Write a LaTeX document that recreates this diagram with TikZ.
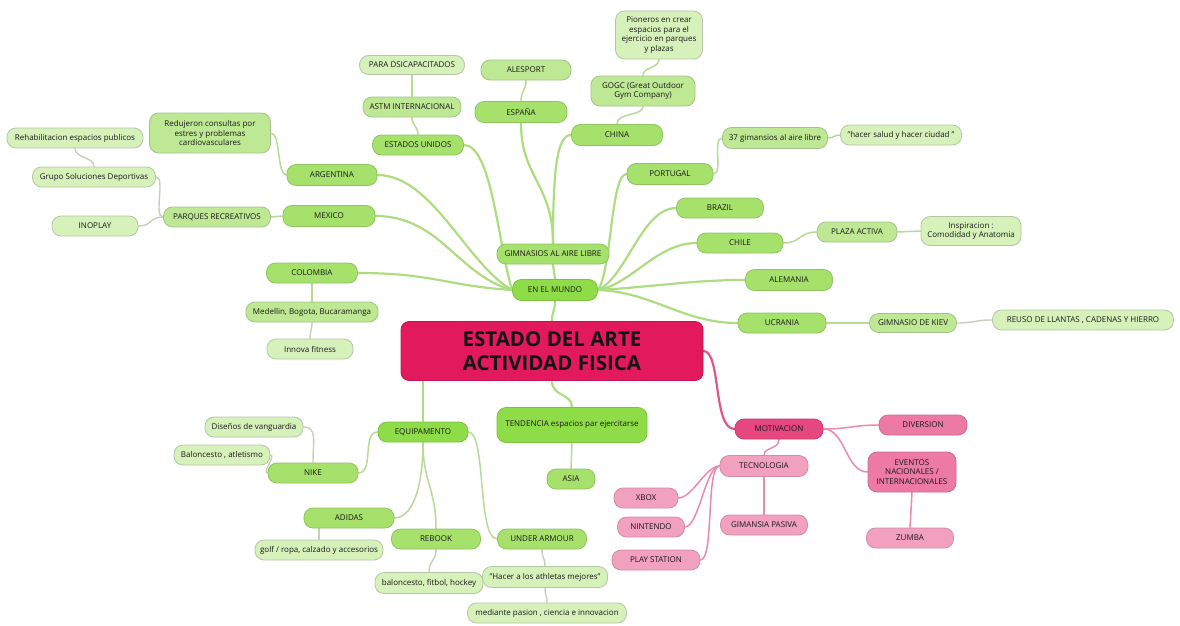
\documentclass[tikz,border=0pt]{standalone}
\usepackage{fontspec}
\setmainfont{Open Sans}
\usetikzlibrary{backgrounds}
\definecolor{gA}{HTML}{8EDD48}
\definecolor{gAd}{HTML}{7CC23E}
\definecolor{gB}{HTML}{A6E16C}
\definecolor{gBd}{HTML}{8FC461}
\definecolor{gC}{HTML}{BFE895}
\definecolor{gCd}{HTML}{A3C38A}
\definecolor{gD}{HTML}{D6F1BA}
\definecolor{gDd}{HTML}{B5C6A6}
\definecolor{pCt}{HTML}{E21A5D}
\definecolor{pCtd}{HTML}{C31650}
\definecolor{pA}{HTML}{E6477E}
\definecolor{pAd}{HTML}{C93A6A}
\definecolor{pB}{HTML}{EC7AA2}
\definecolor{pBd}{HTML}{CF6B8E}
\definecolor{pD}{HTML}{F1A0BD}
\definecolor{pDd}{HTML}{D58BA5}
\definecolor{lnA}{HTML}{AEDC80}
\definecolor{lnB}{HTML}{B8DA97}
\definecolor{lnC}{HTML}{C6CFBC}
\definecolor{lnP}{HTML}{E2548A}
\definecolor{lnQ}{HTML}{E98BAE}
\begin{document}
\begin{tikzpicture}[x=1pt,y=-1pt,
  mm/.style={rounded corners=9pt, line width=0.8pt, inner sep=1pt, align=center,
    font=\fontsize{8}{9.6}\selectfont, text=black!90, minimum height=20pt},
  lvA/.style={mm, fill=gA, draw=gAd},
  lvB/.style={mm, fill=gB, draw=gBd},
  lvC/.style={mm, fill=gC, draw=gCd},
  lvD/.style={mm, fill=gD, draw=gDd},
  pkA/.style={mm, fill=pA, draw=pAd},
  pkB/.style={mm, fill=pB, draw=pBd},
  pkD/.style={mm, fill=pD, draw=pDd},
  ctr/.style={rounded corners=8pt, line width=0.8pt, fill=pCt, draw=pCtd, align=center,
    font=\fontsize{20.5}{24}\selectfont\bfseries, text=black!92, inner sep=0pt},
  cnA/.style={draw=lnA, line width=2.2pt, line cap=round},
  cnB/.style={draw=lnB, line width=1.5pt, line cap=round},
  cnC/.style={draw=lnC, line width=1.4pt, line cap=round},
  cnP/.style={draw=lnP, line width=2.2pt, line cap=round},
  cnQ/.style={draw=lnQ, line width=1.5pt, line cap=round}
]
\useasboundingbox (0,0) rectangle (1180,626);

% ---- central
\node[ctr, minimum width=302pt, minimum height=59pt] (c) at (552,351) {ESTADO DEL ARTE\\ACTIVIDAD FISICA};

% ---- EN EL MUNDO branch
\node[lvA, minimum width=85pt, minimum height=21pt] (enm) at (555,290) {EN EL MUNDO};
\node[lvB, minimum width=112pt] (gim) at (553,254) {GIMNASIOS AL AIRE LIBRE};
\node[lvB, minimum width=91pt] (eu) at (418,145) {ESTADOS UNIDOS};
\node[lvC, minimum width=98pt] (astm) at (412,107) {ASTM INTERNACIONAL};
\node[lvD, minimum width=105pt, minimum height=19pt] (para) at (412,65) {PARA DSICAPACITADOS};
\node[lvB, minimum width=92pt, minimum height=21pt] (esp) at (521,112) {ESPAÑA};
\node[lvC, minimum width=90pt] (ale) at (526,70) {ALESPORT};
\node[lvB, minimum width=91pt, minimum height=21pt] (chn) at (617,135) {CHINA};
\node[lvC, minimum width=104pt, minimum height=30pt] (gogc) at (643,91) {GOGC (Great Outdoor\\Gym Company)};
\node[lvD, minimum width=87pt, minimum height=48pt] (pio) at (659,35) {Pioneros en crear\\espacios para el\\ejercicio en parques\\y plazas};
\node[lvB, minimum width=86pt, minimum height=21pt] (por) at (670,174) {PORTUGAL};
\node[lvC, minimum width=105pt, minimum height=21pt] (g37) at (775,138) {37 gimansios al aire libre};
\node[lvD, minimum width=121pt] (hsal) at (901,135) {"hacer salud y hacer ciudad "};
\node[lvB, minimum width=87pt] (bra) at (720,208) {BRAZIL};
\node[lvB, minimum width=86pt] (chl) at (740,243) {CHILE};
\node[lvC, minimum width=80pt] (plz) at (857,232) {PLAZA ACTIVA};
\node[lvD, minimum width=100pt, minimum height=29pt] (ins) at (971,231) {Inspiracion :\\Comodidad y Anatomia};
\node[lvB, minimum width=87pt, minimum height=21pt] (alm) at (789,280) {ALEMANIA};
\node[lvB, minimum width=88pt] (ucr) at (782,323) {UCRANIA};
\node[lvC, minimum width=87pt, minimum height=19pt] (kiev) at (913,323) {GIMNASIO DE KIEV};
\node[lvD, minimum width=181pt] (reu) at (1083,320) {REUSO DE LLANTAS , CADENAS Y HIERRO};
\node[lvB, minimum width=90pt, minimum height=21pt] (arg) at (332,175) {ARGENTINA};
\node[lvC, minimum width=121pt, minimum height=40pt] (red) at (210,133) {Redujeron consultas por\\estres y problemas\\cardiovasculares};
\node[lvB, minimum width=92pt, minimum height=21pt] (mex) at (329,216) {MEXICO};
\node[lvC, minimum width=107pt] (parq) at (217,217) {PARQUES RECREATIVOS};
\node[lvD, minimum width=123pt] (grp) at (94,177) {Grupo Soluciones Deportivas};
\node[lvD, minimum width=136pt] (reh) at (75,138) {Rehabilitacion espacios publicos};
\node[lvD, minimum width=86pt] (ino) at (95,226) {INOPLAY};
\node[lvB, minimum width=91pt] (col) at (312,273) {COLOMBIA};
\node[lvC, minimum width=132pt] (med) at (312,312) {Medellin, Bogota, Bucaramanga};
\node[lvD, minimum width=86pt] (inn) at (310,349) {Innova fitness};

% ---- EQUIPAMENTO / TENDENCIA branch
\node[lvA, minimum width=90pt] (equ) at (423,432) {EQUIPAMENTO};
\node[lvA, minimum width=150pt, minimum height=35pt] (ten) at (572,425) {TENDENCIA espacios par ejercitarse};
\node[lvB, minimum width=48pt] (asia) at (571,479) {ASIA};
\node[lvB, minimum width=90pt] (nike) at (313,473) {NIKE};
\node[lvD, minimum width=98pt] (dis) at (254,427) {Diseños de vanguardia};
\node[lvD, minimum width=96pt] (bal) at (222,455) {Baloncesto , atletismo};
\node[lvB, minimum width=90pt] (adi) at (349,518) {ADIDAS};
\node[lvD, minimum width=128pt] (golf) at (319,550) {golf / ropa, calzado y accesorios};
\node[lvB, minimum width=89pt] (reb) at (436,539) {REBOOK};
\node[lvD, minimum width=108pt, minimum height=21pt] (bfh) at (429,583) {baloncesto, fitbol, hockey};
\node[lvB, minimum width=89pt] (ua) at (542,539) {UNDER ARMOUR};
\node[lvD, minimum width=125pt, minimum height=21pt] (hac) at (545,577) {"Hacer a los athletas mejores"};
\node[lvD, minimum width=159pt] (medi) at (547,613) {mediante pasion , ciencia e innovacion};

% ---- MOTIVACION branch
\node[pkA, minimum width=88pt] (mot) at (779,429) {MOTIVACION};
\node[pkB, minimum width=88pt] (div) at (923,425) {DIVERSION};
\node[pkD, minimum width=88pt, minimum height=21pt] (tec) at (764,466) {TECNOLOGIA};
\node[pkB, minimum width=88pt, minimum height=40pt] (evt) at (912,472) {EVENTOS\\NACIONALES /\\INTERNACIONALES};
\node[pkD, minimum width=64pt] (xbox) at (646,498) {XBOX};
\node[pkD, minimum width=67pt] (nin) at (651,527) {NINTENDO};
\node[pkD, minimum width=87pt] (gp) at (764,525) {GIMANSIA PASIVA};
\node[pkD, minimum width=87pt] (zum) at (910,538) {ZUMBA};
\node[pkD, minimum width=88pt] (ps) at (656,560) {PLAY STATION};

\begin{pgfonlayer}{background}
% central links
\draw[cnA] (c.north) .. controls +(0,-10) and +(0,10) .. (enm.south);
\draw[cnA] (c.south -| equ.north) .. controls +(0,15) and +(0,-15) .. (equ.north);
\draw[cnA] (c.south) .. controls +(0,16) and +(0,-14) .. (ten.north);
\draw[cnP] (c.east) .. controls +(18,0) and +(-22,0) .. (mot.west);
% EN EL MUNDO
\draw[cnA] (enm.north) -- (gim.south);
\draw[cnA] (gim.north) .. controls +(0,-60) and +(0,55) .. (esp.south);
\draw[cnA] (gim.north) .. controls +(0,-75) and +(-14,0) .. (chn.west);
\draw[cnA] (enm.east) .. controls +(14,-20) and +(-16,0) .. (por.west);
\draw[cnA] (enm.east) .. controls +(28,-12) and +(-34,0) .. (bra.west);
\draw[cnA] (enm.east) .. controls +(34,-6) and +(-40,0) .. (chl.west);
\draw[cnA] (enm.east) .. controls +(55,-3) and +(-55,0) .. (alm.west);
\draw[cnA] (enm.east) .. controls +(55,2) and +(-55,0) .. (ucr.west);
\draw[cnA] (enm.west) .. controls +(-14,-45) and +(28,0) .. (eu.east);
\draw[cnA] (enm.west) .. controls +(-45,-25) and +(55,0) .. (arg.east);
\draw[cnA] (enm.west) .. controls +(-55,-15) and +(65,0) .. (mex.east);
\draw[cnA] (enm.west) .. controls +(-65,-4) and +(75,0) .. (col.east);
% level 3
\draw[cnB] (eu.north) .. controls +(0,-9) and +(0,9) .. (astm.south);
\draw[cnB] (astm.north) .. controls +(0,-10) and +(0,10) .. (para.south);
\draw[cnB] (esp.north) .. controls +(0,-10) and +(0,10) .. (ale.south);
\draw[cnB] (chn.north) .. controls +(0,-12) and +(0,10) .. (gogc.south);
\draw[cnB] (gogc.north) .. controls +(0,-9) and +(0,9) .. (pio.south);
\draw[cnB] (por.east) .. controls +(10,0) and +(-10,0) .. (g37.west);
\draw[cnB] (g37.east) .. controls +(7,0) and +(-7,0) .. (hsal.west);
\draw[cnB] (chl.east) .. controls +(18,0) and +(-18,0) .. (plz.west);
\draw[cnB] (plz.east) .. controls +(12,0) and +(-12,0) .. (ins.west);
\draw[cnB] (ucr.east) .. controls +(30,0) and +(-30,0) .. (kiev.west);
\draw[cnC] (kiev.east) .. controls +(18,0) and +(-18,0) .. (reu.west);
\draw[cnB] (arg.west) .. controls +(-10,0) and +(10,0) .. (red.east);
\draw[cnB] (mex.west) -- (parq.east);
\draw[cnC] (parq.west) .. controls +(-10,0) and +(10,0) .. (grp.east);
\draw[cnC] (parq.west) .. controls +(-14,0) and +(14,0) .. (ino.east);
\draw[cnC] (grp.north) .. controls +(0,-10) and +(0,10) .. (reh.south);
\draw[cnB] (col.south) -- (med.north);
\draw[cnC] (med.south) .. controls +(0,8) and +(0,-8) .. (inn.north);
% EQUIPAMENTO
\draw[cnB] (ten.south) .. controls +(0,12) and +(0,-12) .. (asia.north);
\draw[cnB] (equ.west) .. controls +(-16,0) and +(16,0) .. (nike.east);
\draw[cnB] (equ.south) .. controls +(0,45) and +(18,0) .. (adi.east);
\draw[cnB] (equ.south) .. controls +(0,40) and +(0,-40) .. (reb.north);
\draw[cnB] (equ.east) .. controls +(18,0) and +(-20,0) .. (ua.west);
\draw[cnC] (nike.north) .. controls +(0,-22) and +(14,0) .. (dis.east);
\draw[cnC] (nike.west) .. controls +(-6,0) and +(6,0) .. (bal.east);
\draw[cnC] (adi.south -| golf.north) -- (golf.north);
\draw[cnC] (reb.south) .. controls +(0,12) and +(0,-12) .. (bfh.north);
\draw[cnC] (ua.south) .. controls +(0,9) and +(0,-9) .. (hac.north);
\draw[cnC] (hac.south) .. controls +(0,8) and +(0,-8) .. (medi.north);
% MOTIVACION
\draw[cnQ] (mot.east) .. controls +(25,0) and +(-25,0) .. (div.west);
\draw[cnQ] (mot.east) .. controls +(22,0) and +(-22,0) .. (evt.west);
\draw[cnQ] (mot.south) .. controls +(0,10) and +(0,-8) .. (tec.north);
\draw[cnQ] (tec.west) .. controls +(-14,0) and +(14,0) .. (xbox.east);
\draw[cnQ] (tec.west) .. controls +(-14,0) and +(14,0) .. (nin.east);
\draw[cnQ] (tec.west) .. controls +(-14,0) and +(14,0) .. (ps.east);
\draw[cnQ] (tec.south) -- (gp.north);
\draw[cnQ] (evt.south) -- (zum.north);
\end{pgfonlayer}
\end{tikzpicture}
\end{document}
